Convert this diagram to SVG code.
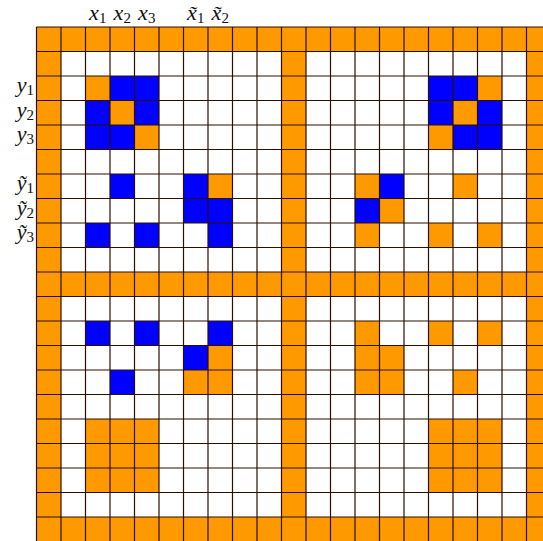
<svg xmlns="http://www.w3.org/2000/svg" width="543" height="541" viewBox="0 0 543 541">
<style>
.o{fill:#FF9900}
.b{fill:#0000FF}
.grid{fill:none;stroke:#2a1000;stroke-width:1.2}
</style>
<rect x="0" y="0" width="543" height="541" fill="#fff"/>
<g id="frame">
<rect class="o" x="36.5" y="27" width="514.5" height="24.5"/>
<rect class="o" x="36.5" y="272" width="514.5" height="24.5"/>
<rect class="o" x="36.5" y="517" width="514.5" height="24.5"/>
<rect class="o" x="36.5" y="27" width="24.5" height="514.5"/>
<rect class="o" x="281.5" y="27" width="24.5" height="514.5"/>
<rect class="o" x="526.5" y="27" width="24.5" height="514.5"/>
</g>
<g id="top-left">
<rect class="o" x="85.5" y="76" width="24.5" height="24.5"/>
<rect class="b" x="110" y="76" width="24.5" height="24.5"/>
<rect class="b" x="134.5" y="76" width="24.5" height="24.5"/>
<rect class="b" x="85.5" y="100.5" width="24.5" height="24.5"/>
<rect class="o" x="110" y="100.5" width="24.5" height="24.5"/>
<rect class="b" x="134.5" y="100.5" width="24.5" height="24.5"/>
<rect class="b" x="85.5" y="125" width="24.5" height="24.5"/>
<rect class="b" x="110" y="125" width="24.5" height="24.5"/>
<rect class="o" x="134.5" y="125" width="24.5" height="24.5"/>
<rect class="b" x="110" y="174" width="24.5" height="24.5"/>
<rect class="b" x="183.5" y="174" width="24.5" height="24.5"/>
<rect class="o" x="208" y="174" width="24.5" height="24.5"/>
<rect class="b" x="183.5" y="198.5" width="24.5" height="24.5"/>
<rect class="b" x="208" y="198.5" width="24.5" height="24.5"/>
<rect class="b" x="85.5" y="223" width="24.5" height="24.5"/>
<rect class="b" x="134.5" y="223" width="24.5" height="24.5"/>
<rect class="b" x="208" y="223" width="24.5" height="24.5"/>
</g>
<g id="top-right">
<rect class="b" x="428.5" y="76" width="24.5" height="24.5"/>
<rect class="b" x="453" y="76" width="24.5" height="24.5"/>
<rect class="o" x="477.5" y="76" width="24.5" height="24.5"/>
<rect class="b" x="428.5" y="100.5" width="24.5" height="24.5"/>
<rect class="o" x="453" y="100.5" width="24.5" height="24.5"/>
<rect class="b" x="477.5" y="100.5" width="24.5" height="24.5"/>
<rect class="o" x="428.5" y="125" width="24.5" height="24.5"/>
<rect class="b" x="453" y="125" width="24.5" height="24.5"/>
<rect class="b" x="477.5" y="125" width="24.5" height="24.5"/>
<rect class="o" x="355" y="174" width="24.5" height="24.5"/>
<rect class="b" x="379.5" y="174" width="24.5" height="24.5"/>
<rect class="o" x="453" y="174" width="24.5" height="24.5"/>
<rect class="b" x="355" y="198.5" width="24.5" height="24.5"/>
<rect class="o" x="379.5" y="198.5" width="24.5" height="24.5"/>
<rect class="o" x="355" y="223" width="24.5" height="24.5"/>
<rect class="o" x="428.5" y="223" width="24.5" height="24.5"/>
<rect class="o" x="477.5" y="223" width="24.5" height="24.5"/>
</g>
<g id="bottom-left">
<rect class="b" x="85.5" y="321" width="24.5" height="24.5"/>
<rect class="b" x="134.5" y="321" width="24.5" height="24.5"/>
<rect class="b" x="208" y="321" width="24.5" height="24.5"/>
<rect class="b" x="183.5" y="345.5" width="24.5" height="24.5"/>
<rect class="o" x="208" y="345.5" width="24.5" height="24.5"/>
<rect class="b" x="110" y="370" width="24.5" height="24.5"/>
<rect class="o" x="183.5" y="370" width="24.5" height="24.5"/>
<rect class="o" x="208" y="370" width="24.5" height="24.5"/>
<rect class="o" x="85.5" y="419" width="73.5" height="73.5"/>
</g>
<g id="bottom-right">
<rect class="o" x="355" y="321" width="24.5" height="24.5"/>
<rect class="o" x="428.5" y="321" width="24.5" height="24.5"/>
<rect class="o" x="477.5" y="321" width="24.5" height="24.5"/>
<rect class="o" x="355" y="345.5" width="49" height="49"/>
<rect class="o" x="453" y="370" width="24.5" height="24.5"/>
<rect class="o" x="428.5" y="419" width="73.5" height="73.5"/>
</g>
<g id="connectors">
<path class="grid" d="M36.5 27V541.5M61 27V541.5M85.5 27V541.5M110 27V541.5M134.5 27V541.5M159 27V541.5M183.5 27V541.5M208 27V541.5M232.5 27V541.5M257 27V541.5M281.5 27V541.5M306 27V541.5M330.5 27V541.5M355 27V541.5M379.5 27V541.5M404 27V541.5M428.5 27V541.5M453 27V541.5M477.5 27V541.5M502 27V541.5M526.5 27V541.5M36.5 27H551M36.5 51.5H551M36.5 76H551M36.5 100.5H551M36.5 125H551M36.5 149.5H551M36.5 174H551M36.5 198.5H551M36.5 223H551M36.5 247.5H551M36.5 272H551M36.5 296.5H551M36.5 321H551M36.5 345.5H551M36.5 370H551M36.5 394.5H551M36.5 419H551M36.5 443.5H551M36.5 468H551M36.5 492.5H551M36.5 517H551M36.5 541.5H551"/>
</g>
<g id="labels" font-family="Liberation Serif, serif" font-style="italic" font-size="22" fill="#111">
<text x="97.75" y="20" text-anchor="middle">x<tspan font-style="normal" font-size="15" dy="3">1</tspan></text>
<text x="122.25" y="20" text-anchor="middle">x<tspan font-style="normal" font-size="15" dy="3">2</tspan></text>
<text x="146.75" y="20" text-anchor="middle">x<tspan font-style="normal" font-size="15" dy="3">3</tspan></text>
<text x="195.75" y="20" text-anchor="middle">x&#771;<tspan font-style="normal" font-size="15" dy="3">1</tspan></text>
<text x="220.25" y="20" text-anchor="middle">x&#771;<tspan font-style="normal" font-size="15" dy="3">2</tspan></text>
<text x="34" y="92" text-anchor="end">y<tspan font-style="normal" font-size="15" dy="3">1</tspan></text>
<text x="34" y="116.5" text-anchor="end">y<tspan font-style="normal" font-size="15" dy="3">2</tspan></text>
<text x="34" y="141" text-anchor="end">y<tspan font-style="normal" font-size="15" dy="3">3</tspan></text>
<text x="34" y="190" text-anchor="end">y&#771;<tspan font-style="normal" font-size="15" dy="3">1</tspan></text>
<text x="34" y="214.5" text-anchor="end">y&#771;<tspan font-style="normal" font-size="15" dy="3">2</tspan></text>
<text x="34" y="239" text-anchor="end">y&#771;<tspan font-style="normal" font-size="15" dy="3">3</tspan></text>
</g>
</svg>
